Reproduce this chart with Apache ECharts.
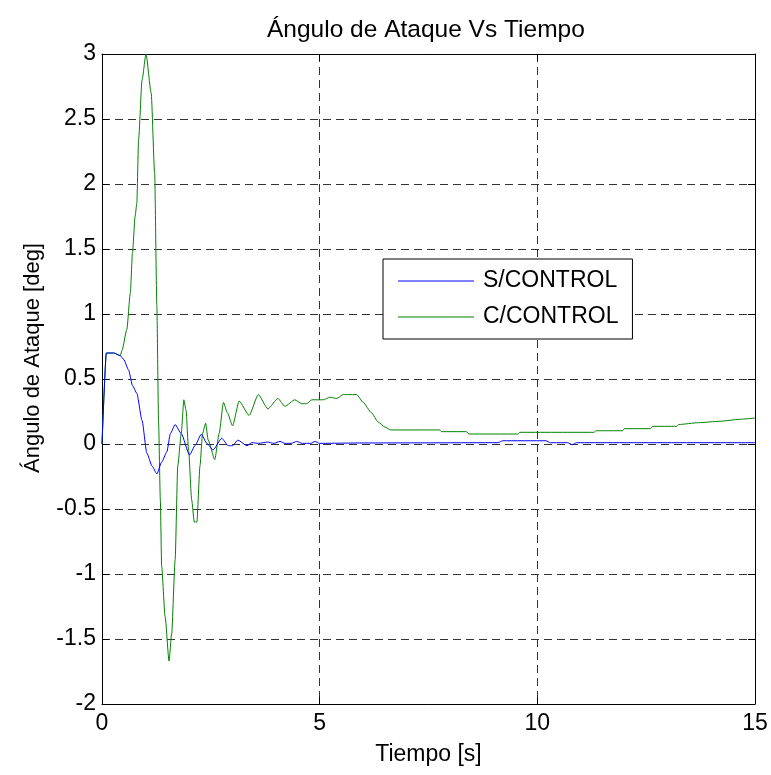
<!DOCTYPE html>
<html>
<head>
<meta charset="utf-8">
<script src="https://cdn.jsdelivr.net/npm/echarts@6/dist/echarts.min.js"></script>
<style>html,body{margin:0;padding:0;background:#fff}#c{width:771px;height:775px}</style>
</head>
<body>
<div id="c"></div>
<script>
var titleText = 'Ángulo de Ataque Vs Tiempo';
var xName = 'Tiempo [s]';
var yName = 'Ángulo de Ataque [deg]';
var seriesNames = ['S/CONTROL', 'C/CONTROL'];

var tS = [0, 0.1, 0.27, 0.42, 0.5, 0.61, 0.7, 0.8, 0.92, 1.03, 1.15, 1.26, 1.37, 1.49, 1.57, 1.68, 1.82, 2.01, 2.14, 2.28, 2.41, 2.55, 2.75, 2.9, 3.0, 3.12, 3.33, 3.44, 3.6, 3.8, 3.95, 4.09, 4.2, 4.35, 4.47, 4.6, 4.8, 4.89, 5.0, 6, 9.1, 9.2, 10.2, 10.3, 10.7, 10.8, 10.9, 15];
var vS = [0, 0.70, 0.70, 0.68, 0.65, 0.57, 0.45, 0.39, 0.18, -0.07, -0.17, -0.23, -0.14, -0.06, 0.08, 0.15, 0.08, -0.085, -0.01, 0.075, 0.005, -0.046, 0.044, -0.013, -0.013, 0.03, -0.013, 0.01, 0.005, 0.015, 0.005, 0.02, 0.005, 0.005, 0.02, 0.005, 0.005, 0.02, 0.005, 0.008, 0.01, 0.025, 0.025, 0.01, 0.01, -0.005, 0.01, 0.01];

var tC = [0, 0.1, 0.27, 0.42, 0.46, 0.57, 0.65, 0.70, 0.76, 0.80, 0.84, 0.92, 1.01, 1.13, 1.21, 1.26, 1.30, 1.34, 1.37, 1.45, 1.54, 1.60, 1.68, 1.74, 1.82, 1.88, 1.93, 1.99, 2.06, 2.12, 2.18, 2.25, 2.31, 2.38, 2.44, 2.59, 2.69, 2.79, 2.88, 3.0, 3.15, 3.38, 3.59, 3.81, 4.04, 4.20, 4.43, 4.59, 4.70, 4.82, 5.08, 5.24, 5.39, 5.54, 5.66, 5.85, 6.0, 6.19, 6.34, 6.5, 6.63, 7.76, 7.8, 8.37, 8.43, 9.55, 9.6, 11.3, 11.35, 11.96, 12.0, 12.6, 12.65, 13.2, 13.25, 13.7, 14.2, 14.65, 15];
var vC = [0, 0.70, 0.70, 0.68, 0.72, 0.88, 1.16, 1.47, 1.75, 1.85, 2.34, 2.8, 3.0, 2.70, 2.08, 1.06, 0.16, -0.43, -0.94, -1.33, -1.67, -1.46, -0.89, -0.17, 0.08, 0.34, 0.26, -0.05, -0.43, -0.60, -0.60, -0.17, 0.08, 0.16, 0.03, -0.12, 0.08, 0.32, 0.24, 0.14, 0.33, 0.22, 0.38, 0.27, 0.35, 0.29, 0.34, 0.31, 0.31, 0.34, 0.34, 0.36, 0.35, 0.38, 0.38, 0.38, 0.32, 0.24, 0.17, 0.13, 0.108, 0.108, 0.095, 0.095, 0.077, 0.077, 0.09, 0.09, 0.102, 0.102, 0.118, 0.118, 0.136, 0.136, 0.15, 0.164, 0.175, 0.19, 0.20];

function pairs(t, v) { return t.map(function (x, i) { return [x, v[i]]; }); }

var FONT = 'Liberation Sans, Arial, sans-serif';
var FS = 23;
var chart = echarts.init(document.getElementById('c'), null, { renderer: 'canvas' });

var gridLine = { show: true, lineStyle: { color: '#333', width: 1, type: [8, 5] } };
var tick = { show: true, inside: true, length: 7, lineStyle: { color: '#000' } };
var axLine = { show: true, onZero: false, lineStyle: { color: '#000', width: 1 } };

chart.setOption({
  animation: false,
  backgroundColor: '#fff',
  title: {
    text: titleText, left: 267, top: 18, padding: 0,
    textStyle: { fontFamily: FONT, fontSize: 24.5, fontWeight: 'normal', color: '#000' }
  },
  grid: { left: 102, right: 16, top: 54, bottom: 71, containLabel: false },
  legend: {
    orient: 'vertical', left: 383, top: 259,
    data: seriesNames, icon: 'rect',
    backgroundColor: '#fff', borderColor: '#000', borderWidth: 1,
    padding: [9, 14, 9, 15], itemGap: 10, itemWidth: 76, itemHeight: 1,
    textStyle: { fontFamily: FONT, fontSize: FS, color: '#000', lineHeight: 26, padding: [0, 0, 0, 4] }
  },
  xAxis: [{
    type: 'value', min: 0, max: 15, interval: 5, position: 'bottom',
    name: xName, nameLocation: 'middle', nameGap: 39,
    nameTextStyle: { fontFamily: FONT, fontSize: FS, color: '#000' },
    axisLine: axLine, axisTick: tick, splitLine: gridLine,
    axisLabel: { fontFamily: FONT, fontSize: FS, color: '#000', margin: 8 }
  }, {
    type: 'value', min: 0, max: 15, interval: 5, position: 'top',
    axisLine: axLine, axisTick: tick, splitLine: { show: false }, axisLabel: { show: false }
  }],
  yAxis: [{
    type: 'value', min: -2, max: 3, interval: 0.5, position: 'left',
    name: yName, nameLocation: 'middle', nameGap: 58,
    nameTextStyle: { fontFamily: FONT, fontSize: 22, color: '#000', padding: [0, 0, 0, 42] },
    axisLine: axLine, axisTick: tick, splitLine: gridLine,
    axisLabel: { fontFamily: FONT, fontSize: FS, color: '#000', margin: 6 }
  }, {
    type: 'value', min: -2, max: 3, interval: 0.5, position: 'right',
    axisLine: axLine, axisTick: tick, splitLine: { show: false }, axisLabel: { show: false }
  }],
  series: [{
    name: seriesNames[0], type: 'line', data: pairs(tS, vS),
    symbol: 'none', smooth: 0.2, smoothMonotone: 'x',
    lineStyle: { color: '#0000ff', width: 1 }, itemStyle: { color: '#0000ff' }, z: 3
  }, {
    name: seriesNames[1], type: 'line', data: pairs(tC, vC),
    symbol: 'none', smooth: 0.2, smoothMonotone: 'x',
    lineStyle: { color: '#008000', width: 1 }, itemStyle: { color: '#008000' }, z: 2
  }]
});
</script>
</body>
</html>
